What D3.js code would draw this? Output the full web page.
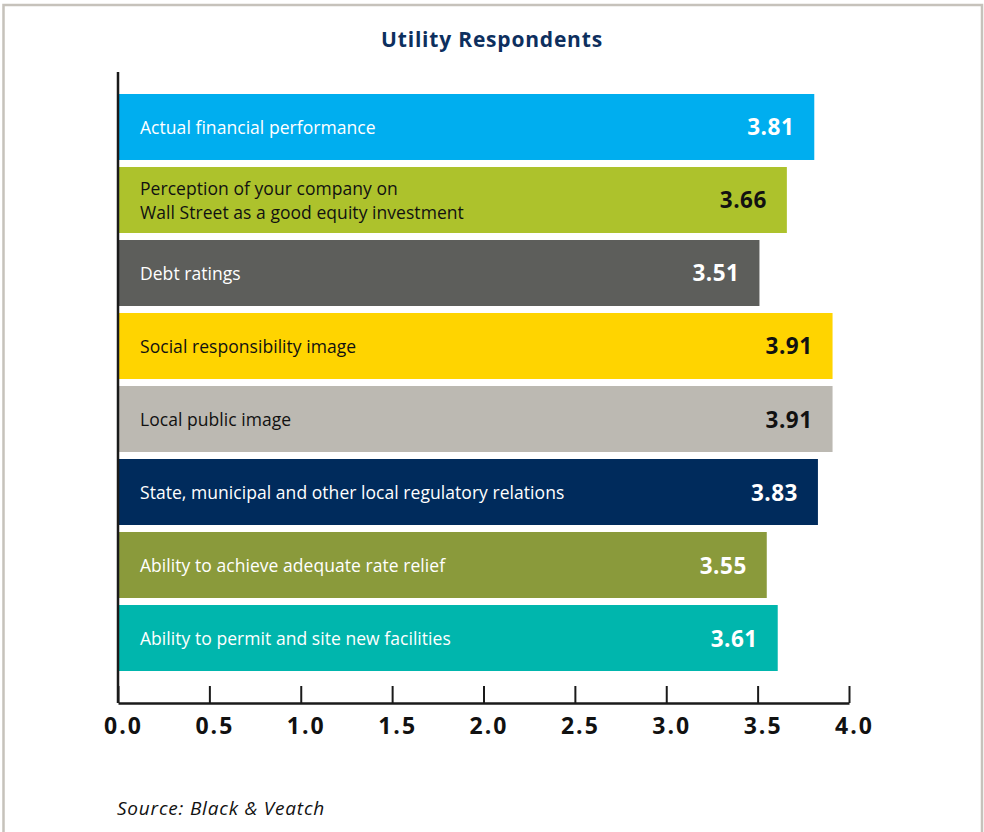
<!DOCTYPE html>
<html>
<head>
<meta charset="utf-8">
<script src="https://cdn.jsdelivr.net/npm/d3@7"></script>
<style>
  body { margin: 0; background: #fff; }
  svg { display: block; font-family: "Open Sans", "Noto Sans", sans-serif; }
</style>
</head>
<body>
<svg id="chart" width="984" height="832"></svg>
<script>
// data
const categories = [
  ["Actual financial performance"],
  ["Perception of your company on", "Wall Street as a good equity investment"],
  ["Debt ratings"],
  ["Social responsibility image"],
  ["Local public image"],
  ["State, municipal and other local regulatory relations"],
  ["Ability to achieve adequate rate relief"],
  ["Ability to permit and site new facilities"]
];
const scores = [3.81, 3.66, 3.51, 3.91, 3.91, 3.83, 3.55, 3.61];
const barColors = ["#00aeef", "#adc22c", "#5d5e5b", "#ffd400", "#bcb9b2", "#002b5c", "#8a9a3b", "#00b6ad"];
const textColors = ["#fff", "#111", "#fff", "#111", "#111", "#fff", "#fff", "#fff"];
const tickValues = [0, 0.5, 1, 1.5, 2, 2.5, 3, 3.5, 4];

const data = scores.map((s, i) => ({ id: i, label: categories[i], score: s }));

const svg = d3.select("#chart");

// outer frame
svg.append("rect")
  .attr("x", 3.5).attr("y", 5)
  .attr("width", 978.5).attr("height", 900)
  .attr("fill", "none")
  .attr("stroke", "#c6c2bb")
  .attr("stroke-width", 2.5);

svg.append("text")
  .attr("x", 492).attr("y", 47)
  .attr("text-anchor", "middle")
  .attr("font-size", 21).attr("font-weight", 700)
  .attr("letter-spacing", 0.8)
  .attr("fill", "#0d2f5e")
  .text("Utility Respondents");

const x = d3.scaleLinear().domain([0, 4]).range([118, 849]);
const y = d3.scaleBand()
  .domain(data.map(d => d.id))
  .range([94, 671])
  .paddingInner(0.096);

// bars
const bar = svg.selectAll(".bar")
  .data(data)
  .enter().append("g")
  .attr("class", "bar");

bar.append("rect")
  .attr("x", x(0))
  .attr("y", d => y(d.id))
  .attr("width", d => x(d.score) - x(0))
  .attr("height", y.bandwidth())
  .attr("fill", d => barColors[d.id]);

bar.append("text")
  .attr("x", 140)
  .attr("y", d => y(d.id) + y.bandwidth() / 2 + 7 - (d.label.length - 1) * 12)
  .attr("font-size", 17.5)
  .attr("letter-spacing", 0.05)
  .attr("fill", d => textColors[d.id])
  .selectAll("tspan")
  .data(d => d.label)
  .enter().append("tspan")
  .attr("x", 140)
  .attr("dy", (d, i) => i === 0 ? 0 : 24)
  .text(d => d);

bar.append("text")
  .attr("x", d => x(d.score) - 20)
  .attr("y", d => y(d.id) + y.bandwidth() / 2 + 8.5)
  .attr("text-anchor", "end")
  .attr("font-size", 22.5).attr("font-weight", 700)
  .attr("letter-spacing", 0.5)
  .attr("fill", d => textColors[d.id])
  .text(d => d.score.toFixed(2));

// axes
svg.append("line")
  .attr("x1", x(0)).attr("x2", x(0))
  .attr("y1", 72).attr("y2", 703)
  .attr("stroke", "#1a1a1a")
  .attr("stroke-width", 2.5);

const xAxis = svg.append("g")
  .attr("transform", "translate(0,703)")
  .call(d3.axisBottom(x)
    .tickValues(tickValues)
    .tickFormat(d3.format(".1f"))
    .tickSizeInner(-17)
    .tickSizeOuter(0)
    .tickPadding(15));

xAxis.select(".domain").attr("stroke", "#1a1a1a").attr("stroke-width", 2.5);
xAxis.selectAll(".tick line").attr("stroke", "#1a1a1a").attr("stroke-width", 2);
xAxis.selectAll(".tick text")
  .attr("font-family", "'Open Sans', sans-serif")
  .attr("font-size", 23).attr("font-weight", 700)
  .attr("letter-spacing", 2)
  .attr("dx", 5)
  .attr("fill", "#111");

svg.append("text")
  .attr("x", 117).attr("y", 815)
  .attr("font-size", 19).attr("font-style", "italic")
  .attr("letter-spacing", 0.8)
  .attr("fill", "#111")
  .text("Source: Black & Veatch");
</script>
</body>
</html>
